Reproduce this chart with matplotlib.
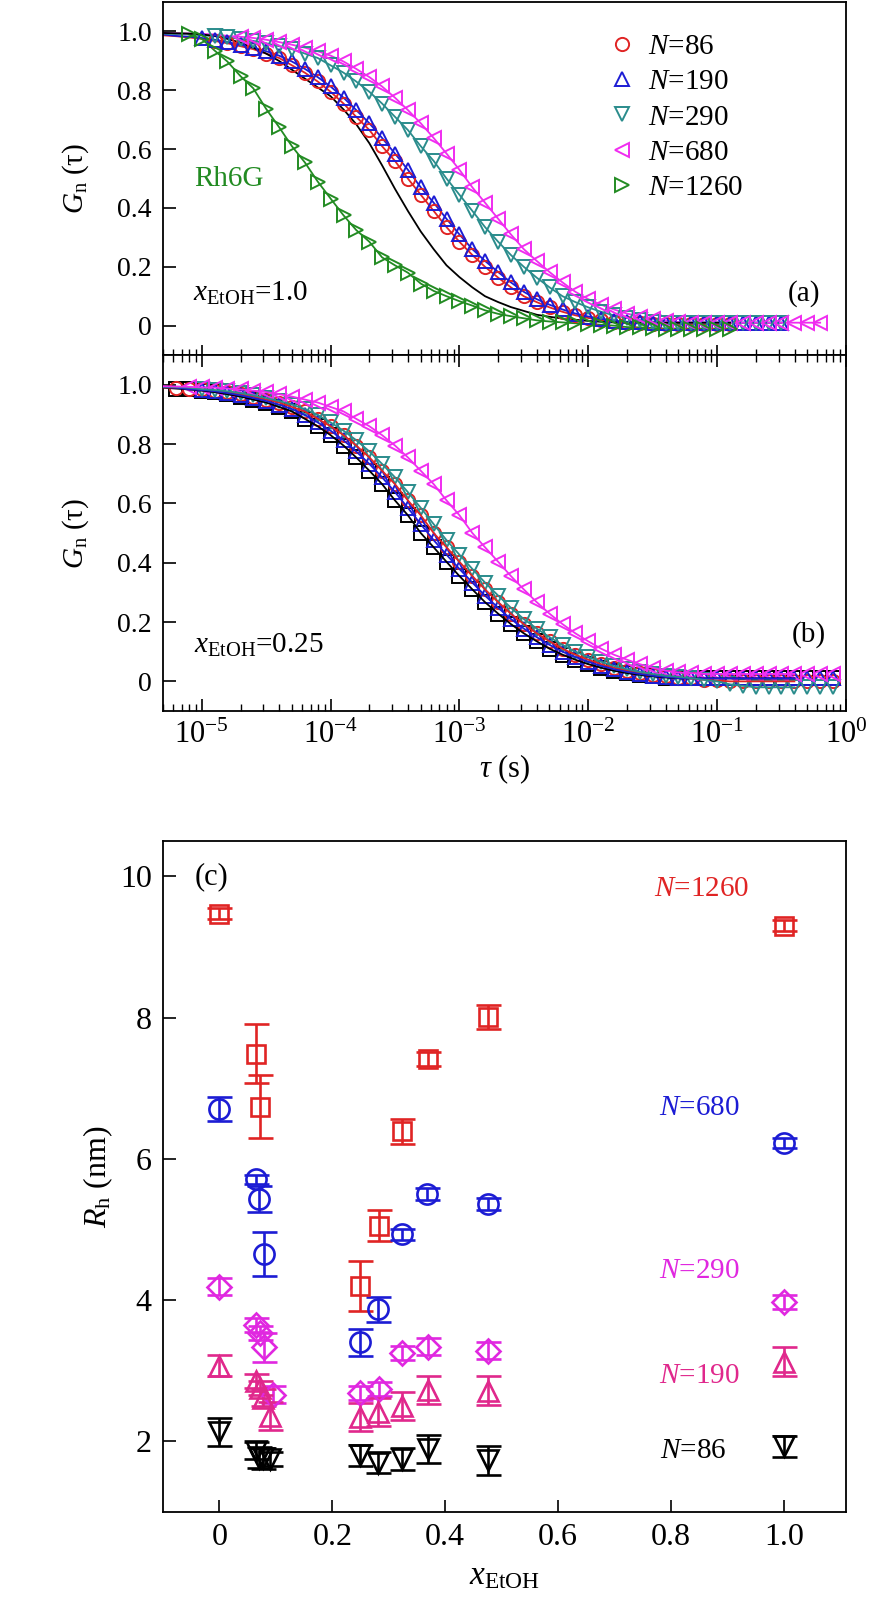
import numpy as np
import matplotlib
matplotlib.use('Agg')
import matplotlib.pyplot as plt
from matplotlib.ticker import LogLocator, NullFormatter, FuncFormatter

plt.rcParams['font.family'] = ['Liberation Serif', 'DejaVu Serif']
plt.rcParams['mathtext.fontset'] = 'custom'
plt.rcParams['mathtext.rm'] = 'Liberation Serif'
plt.rcParams['mathtext.it'] = 'Liberation Serif:italic'
plt.rcParams['mathtext.bf'] = 'Liberation Serif:bold'

nan = np.nan

# lag times (s), shared by all correlation curves
tau = [5.0e-6, 6.3e-6, 7.9e-6,
       1.0e-5, 1.26e-5, 1.58e-5, 2.0e-5, 2.51e-5, 3.16e-5, 3.98e-5, 5.01e-5, 6.31e-5, 7.94e-5,
       1.0e-4, 1.26e-4, 1.58e-4, 2.0e-4, 2.51e-4, 3.16e-4, 3.98e-4, 5.01e-4, 6.31e-4, 7.94e-4,
       1.0e-3, 1.26e-3, 1.58e-3, 2.0e-3, 2.51e-3, 3.16e-3, 3.98e-3, 5.01e-3, 6.31e-3, 7.94e-3,
       1.0e-2, 1.26e-2, 1.58e-2, 2.0e-2, 2.51e-2, 3.16e-2, 3.98e-2, 5.01e-2, 6.31e-2, 7.94e-2,
       1.0e-1, 1.26e-1, 1.58e-1, 2.0e-1, 2.51e-1, 3.16e-1, 3.98e-1, 5.01e-1, 6.31e-1, 7.94e-1,
       1.0]

# (a) x_EtOH = 1.0
a_ref_line = [0.995, 0.994, 0.993, 0.99, 0.985, 0.975, 0.962, 0.945, 0.925, 0.90,
              0.87, 0.84, 0.81, 0.78, 0.735, 0.685, 0.62, 0.545, 0.465, 0.39,
              0.32, 0.26, 0.205, 0.165, 0.13, 0.10, 0.08, 0.063, 0.05, 0.037,
              0.03, 0.024, 0.02, 0.016, 0.013, 0.011, 0.01, 0.01, 0.01, 0.01,
              0.01, 0.01, 0.01, 0.01, 0.01, nan, nan, nan, nan, nan, nan, nan, nan, nan]
a_n86 = [0.987, 0.984, 0.98, 0.975, 0.968, 0.96, 0.95, 0.94, 0.925, 0.91,
         0.885, 0.86, 0.83, 0.795, 0.755, 0.71, 0.665, 0.61, 0.56, 0.50,
         0.445, 0.39, 0.335, 0.285, 0.24, 0.20, 0.163, 0.13, 0.10, 0.08,
         0.062, 0.047, 0.035, 0.026, 0.019, 0.014, 0.01, 0.008, 0.006, 0.005,
         0.005, 0.005, 0.005, 0.005, 0.005, nan, nan, nan, nan, nan, nan, nan, nan, nan]
a_n190 = [0.99, 0.985, 0.982, 0.978, 0.972, 0.964, 0.955, 0.945, 0.933, 0.918,
          0.898, 0.873, 0.845, 0.813, 0.775, 0.733, 0.688, 0.638, 0.585, 0.53,
          0.47, 0.418, 0.363, 0.31, 0.26, 0.22, 0.182, 0.147, 0.115, 0.09,
          0.071, 0.055, 0.041, 0.031, 0.023, 0.017, 0.013, 0.011, 0.01, 0.01,
          0.01, 0.01, 0.01, 0.01, 0.01, 0.01, 0.01, 0.01, 0.01, nan, nan, nan, nan, nan]
a_n290 = [0.993, 0.991, 0.99, 0.987, 0.984, 0.98, 0.975, 0.968, 0.96, 0.95,
          0.94, 0.925, 0.91, 0.885, 0.86, 0.83, 0.795, 0.755, 0.71, 0.665,
          0.61, 0.56, 0.50, 0.445, 0.39, 0.335, 0.285, 0.24, 0.20, 0.163,
          0.13, 0.10, 0.08, 0.062, 0.047, 0.035, 0.026, 0.019, 0.014, 0.01,
          0.01, 0.01, 0.01, 0.01, 0.01, 0.01, 0.01, 0.01, 0.01, nan, nan, nan, nan, nan]
a_n680 = [0.995, 0.994, 0.993, 0.992, 0.99, 0.985, 0.982, 0.978, 0.972, 0.964,
          0.955, 0.945, 0.933, 0.918, 0.898, 0.873, 0.845, 0.813, 0.775, 0.733,
          0.688, 0.638, 0.585, 0.53, 0.47, 0.418, 0.363, 0.31, 0.26, 0.22,
          0.182, 0.147, 0.115, 0.09, 0.071, 0.055, 0.041, 0.031, 0.023, 0.017,
          0.012, 0.01, 0.01, 0.01, 0.01, 0.01, 0.01, 0.01, 0.01, 0.01,
          0.01, 0.01, nan, nan]
a_n1260 = [nan, nan, 0.99, 0.975, 0.935, 0.898, 0.848, 0.807, 0.737, 0.675,
           0.61, 0.555, 0.49, 0.432, 0.375, 0.325, 0.285, 0.232, 0.205, 0.18,
           0.143, 0.118, 0.10, 0.083, 0.068, 0.052, 0.04, 0.032, 0.025, 0.018,
           0.014, 0.011, 0.008, 0.006, 0.003, 0.0, -0.005, -0.006, -0.008, -0.01,
           -0.01, -0.01, -0.01, -0.01, -0.01, nan, nan, nan, nan, nan, nan, nan, nan, nan]

# (b) x_EtOH = 0.25
b_black = [0.99, 0.987, 0.984, 0.98, 0.975, 0.968, 0.96, 0.95, 0.94, 0.925,
           0.91, 0.885, 0.86, 0.83, 0.795, 0.755, 0.71, 0.665, 0.61, 0.56,
           0.50, 0.452, 0.403, 0.355, 0.31, 0.267, 0.228, 0.193, 0.162, 0.135,
           0.11, 0.09, 0.073, 0.058, 0.046, 0.036, 0.028, 0.022, 0.017, 0.013,
           0.01, 0.01, 0.01, 0.01, 0.01, 0.01, 0.01, 0.01, 0.01, 0.01,
           0.01, 0.01, 0.01, nan]
b_red = [0.991, 0.99, 0.987, 0.984, 0.98, 0.975, 0.968, 0.96, 0.95, 0.94,
         0.925, 0.91, 0.885, 0.86, 0.83, 0.795, 0.755, 0.71, 0.665, 0.61,
         0.56, 0.50, 0.452, 0.403, 0.355, 0.31, 0.267, 0.228, 0.193, 0.162,
         0.135, 0.11, 0.09, 0.073, 0.058, 0.046, 0.036, 0.028, 0.022, 0.017,
         0.013, 0.01, 0.005, 0.003, 0.0, 0.0, 0.0, 0.0, 0.0, 0.0,
         0.0, 0.0, 0.0, nan]
b_blue = [0.992, 0.99, 0.985, 0.982, 0.978, 0.972, 0.964, 0.955, 0.945, 0.933,
          0.918, 0.898, 0.873, 0.845, 0.813, 0.775, 0.733, 0.688, 0.638, 0.585,
          0.53, 0.476, 0.427, 0.379, 0.333, 0.289, 0.248, 0.21, 0.178, 0.149,
          0.123, 0.10, 0.082, 0.066, 0.052, 0.041, 0.032, 0.025, 0.019, 0.015,
          0.011, 0.01, 0.01, 0.01, 0.01, 0.01, 0.01, 0.01, 0.01, 0.01,
          0.01, 0.01, 0.01, nan]
b_teal = [0.993, 0.992, 0.99, 0.985, 0.982, 0.978, 0.972, 0.964, 0.955, 0.945,
          0.933, 0.918, 0.898, 0.873, 0.845, 0.813, 0.775, 0.733, 0.688, 0.638,
          0.585, 0.53, 0.476, 0.427, 0.379, 0.333, 0.289, 0.248, 0.21, 0.178,
          0.149, 0.123, 0.10, 0.082, 0.066, 0.052, 0.041, 0.032, 0.025, 0.019,
          0.015, 0.011, 0.005, 0.0, -0.01, -0.015, -0.02, -0.02, -0.02, -0.02,
          -0.02, -0.02, -0.02, nan]
b_magenta = [0.995, 0.994, 0.993, 0.991, 0.99, 0.987, 0.984, 0.98, 0.975, 0.968,
             0.96, 0.95, 0.94, 0.925, 0.91, 0.885, 0.86, 0.83, 0.795, 0.755,
             0.71, 0.665, 0.61, 0.56, 0.50, 0.452, 0.403, 0.355, 0.31, 0.267,
             0.228, 0.193, 0.162, 0.135, 0.11, 0.09, 0.073, 0.058, 0.046, 0.036,
             0.03, 0.028, 0.025, 0.025, 0.025, 0.025, 0.025, 0.025, 0.025, 0.025,
             0.025, 0.025, 0.025, nan]

# (c) hydrodynamic radius vs ethanol fraction
c_x1260 = [0.0, 0.065, 0.072, 0.249, 0.282, 0.324, 0.369, 0.475, 1.0]
c_r1260 = [9.47, 7.49, 6.74, 4.20, 5.05, 6.39, 7.41, 8.01, 9.30]
c_e1260 = [0.08, 0.42, 0.44, 0.36, 0.22, 0.18, 0.10, 0.17, 0.08]

c_x680 = [0.0, 0.065, 0.071, 0.079, 0.249, 0.281, 0.324, 0.367, 0.475, 1.0]
c_r680 = [6.71, 5.71, 5.43, 4.65, 3.40, 3.87, 4.93, 5.50, 5.36, 6.23]
c_e680 = [0.17, 0.06, 0.18, 0.31, 0.19, 0.18, 0.08, 0.08, 0.08, 0.07]

c_x290 = [0.0, 0.065, 0.072, 0.079, 0.095, 0.249, 0.282, 0.324, 0.369, 0.475, 1.0]
c_r290 = [4.19, 3.65, 3.54, 3.33, 2.66, 2.68, 2.74, 3.25, 3.34, 3.28, 3.97]
c_e290 = [0.12, 0.10, 0.10, 0.20, 0.12, 0.10, 0.10, 0.10, 0.12, 0.12, 0.10]

c_x190 = [0.0, 0.065, 0.072, 0.078, 0.09, 0.249, 0.281, 0.324, 0.369, 0.475, 1.0]
c_r190 = [3.07, 2.86, 2.76, 2.62, 2.36, 2.34, 2.42, 2.50, 2.73, 2.72, 3.13]
c_e190 = [0.15, 0.10, 0.10, 0.12, 0.20, 0.20, 0.20, 0.20, 0.20, 0.20, 0.20]

c_x86 = [0.0, 0.065, 0.071, 0.078, 0.09, 0.249, 0.281, 0.324, 0.369, 0.475, 1.0]
c_r86 = [2.13, 1.87, 1.77, 1.76, 1.75, 1.80, 1.70, 1.75, 1.89, 1.73, 1.93]
c_e86 = [0.20, 0.12, 0.15, 0.15, 0.10, 0.15, 0.15, 0.15, 0.20, 0.20, 0.15]

RED = '#e02424'
BLUE = '#1c1cd4'
TEAL = '#2a8c8c'
MAGENTA = '#f02cf0'
GREEN = '#228b22'
PINK = '#e0288c'
VIOLET = '#e028e0'


def style_corr_axes(ax):
    ax.set_xscale('log')
    ax.set_xlim(5e-6, 1.0)
    ax.set_ylim(-0.1, 1.1)
    ax.xaxis.set_major_locator(LogLocator(base=10, numticks=12))
    ax.xaxis.set_minor_locator(LogLocator(base=10, subs=np.arange(2, 10), numticks=12))
    ax.xaxis.set_minor_formatter(NullFormatter())
    ax.set_yticks([0, 0.2, 0.4, 0.6, 0.8, 1.0])
    ax.yaxis.set_major_formatter(FuncFormatter(lambda v, p: '0' if abs(v) < 1e-9 else f'{v:.1f}'))
    ax.tick_params(axis='y', which='major', direction='in', length=9, width=1.2,
                   left=True, right=False, labelsize=20, pad=8)
    ax.set_ylabel(r'$G_{\mathrm{n}}$ (τ)', fontsize=21)
    ax.yaxis.set_label_coords(-0.105, 0.5)
    for s in ax.spines.values():
        s.set_linewidth(1.3)


fig = plt.figure(figsize=(8.9, 16), dpi=100)
ax_a = fig.add_axes([0.1831, 0.7781, 0.7674, 0.2206])
ax_b = fig.add_axes([0.1831, 0.5556, 0.7674, 0.2225])
ax_c = fig.add_axes([0.1831, 0.055, 0.7674, 0.4194])

# ---- panel (a)
style_corr_axes(ax_a)
ax_a.tick_params(axis='x', which='major', direction='in', length=7, width=1.2,
                 bottom=True, top=False, labelbottom=False)
ax_a.tick_params(axis='x', which='minor', direction='in', length=4, width=1.0,
                 bottom=True, top=False)

ax_a.plot(tau, a_ref_line, color='black', lw=1.3, zorder=3)
a_series = [
    (a_n86, 'o', RED, r'$N$=86', slice(4, 45), 9.5),
    (a_n190, '^', BLUE, r'$N$=190', slice(3, 49), 10.5),
    (a_n290, 'v', TEAL, r'$N$=290', slice(4, 49), 10.5),
    (a_n680, '<', MAGENTA, r'$N$=680', slice(6, 52), 10.5),
    (a_n1260, '>', GREEN, r'$N$=1260', slice(2, 45), 10.5),
]
for vals, mk, col, lab, sl, ms in a_series:
    ax_a.plot(tau, vals, color=col, lw=1.3, zorder=2)
    ax_a.plot(tau[sl], vals[sl], ls='none', marker=mk, ms=ms, mfc='none',
              mec=col, mew=1.4, label=lab, zorder=4)

ax_a.legend(loc='upper left', bbox_to_anchor=(0.651, 0.91), frameon=False,
            fontsize=21, handlelength=1.0, handletextpad=0.4, labelspacing=0.3,
            borderpad=0, borderaxespad=0)
ax_a.text(8.7e-6, 0.5, 'Rh6G', color=GREEN, fontsize=21, ha='left', va='center')
ax_a.text(8.5e-6, 0.11, r'$x_{\mathrm{EtOH}}$=1.0', fontsize=21, ha='left', va='center')
ax_a.text(0.962, 0.175, '(a)', transform=ax_a.transAxes, fontsize=21, ha='right', va='center')

# ---- panel (b)
style_corr_axes(ax_b)
ax_b.tick_params(axis='x', which='major', direction='in', length=8.5, width=1.2,
                 bottom=True, top=True, labelbottom=True, labelsize=22, pad=7)
ax_b.tick_params(axis='x', which='minor', direction='in', length=5, width=1.0,
                 bottom=True, top=True)

b_series = [
    (b_black, 's', 'black', slice(1, 53), 9.5),
    (b_red, 'o', RED, slice(1, 53), 9.5),
    (b_blue, '^', BLUE, slice(3, 53), 10.5),
    (b_teal, 'v', TEAL, slice(3, 53), 10.5),
    (b_magenta, '<', MAGENTA, slice(2, 53), 10.5),
]
for vals, mk, col, sl, ms in b_series:
    ax_b.plot(tau[sl], vals[sl], ls='none', marker=mk, ms=ms, mfc='none',
              mec=col, mew=1.4, zorder=2)
for vals, mk, col, sl, ms in b_series:
    ax_b.plot(tau[:50], vals[:50], color=col, lw=1.3, zorder=3)

ax_b.text(8.7e-6, 0.12, r'$x_{\mathrm{EtOH}}$=0.25', fontsize=21, ha='left', va='center')
ax_b.text(0.971, 0.215, '(b)', transform=ax_b.transAxes, fontsize=21, ha='right', va='center')
ax_b.set_xlabel(r'$\mathit{\tau}$ (s)', fontsize=22, labelpad=2)

# ---- panel (c)
c_series = [
    (c_x1260, c_r1260, c_e1260, 's', RED, 13),
    (c_x680, c_r680, c_e680, 'o', BLUE, 14.5),
    (c_x290, c_r290, c_e290, 'D', VIOLET, 12),
    (c_x190, c_r190, c_e190, '^', PINK, 14.5),
    (c_x86, c_r86, c_e86, 'v', 'black', 14.5),
]
for xs, ys, es, mk, col, ms in c_series:
    ax_c.errorbar(xs, ys, yerr=es, fmt=mk, ms=ms, mfc='none', mec=col, mew=1.9,
                  ecolor=col, elinewidth=1.9, capsize=9, capthick=1.9)

ax_c.set_xlim(-0.1, 1.11)
ax_c.set_ylim(1.0, 10.5)
ax_c.set_xticks([0, 0.2, 0.4, 0.6, 0.8, 1.0])
ax_c.set_xticklabels(['0', '0.2', '0.4', '0.6', '0.8', '1.0'])
ax_c.set_yticks([2, 4, 6, 8, 10])
ax_c.tick_params(direction='in', length=9, width=1.2, labelsize=23,
                 top=False, right=False)
ax_c.tick_params(axis='x', pad=8)
ax_c.tick_params(axis='y', pad=8)
for s in ax_c.spines.values():
    s.set_linewidth(1.3)
ax_c.set_ylabel(r'$R_{\mathrm{h}}$ (nm)', fontsize=23)
ax_c.yaxis.set_label_coords(-0.07, 0.5)
ax_c.set_xlabel(r'$x_{\mathrm{EtOH}}$', fontsize=24, labelpad=6)

ax_c.text(-0.0135, 10.0, '(c)', fontsize=22, ha='center', va='center')
ax_c.text(0.855, 9.82, r'$N$=1260', color=RED, fontsize=21, ha='center', va='center')
ax_c.text(0.85, 6.72, r'$N$=680', color=BLUE, fontsize=21, ha='center', va='center')
ax_c.text(0.85, 4.41, r'$N$=290', color=VIOLET, fontsize=21, ha='center', va='center')
ax_c.text(0.85, 2.92, r'$N$=190', color=PINK, fontsize=21, ha='center', va='center')
ax_c.text(0.84, 1.86, r'$N$=86', color='black', fontsize=21, ha='center', va='center')

fig.savefig('out.png', dpi=100)
